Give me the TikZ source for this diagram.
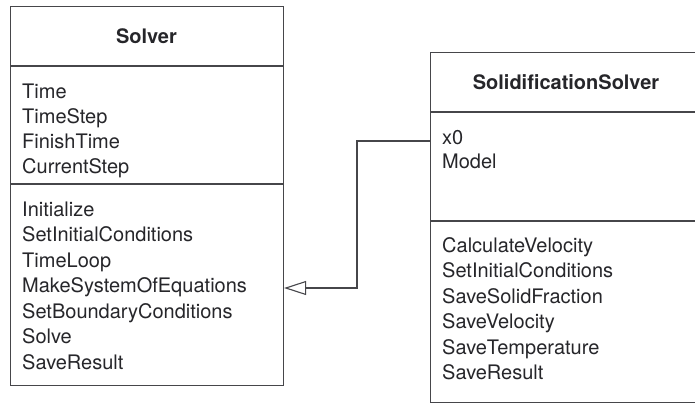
\documentclass[tikz,border=0pt]{standalone}
\usepackage{fontspec}
\setmainfont{TeX Gyre Heros}
\usetikzlibrary{arrows.meta}
\definecolor{ink}{RGB}{38,38,42}
\definecolor{rule}{RGB}{70,70,74}
\begin{document}
\begin{tikzpicture}[x=1pt,y=-1pt,
  classbox/.style={draw=rule, line width=1.1pt, rectangle, inner sep=0pt, anchor=north west},
  sep/.style={draw=rule, line width=1.1pt},
  member/.style={anchor=base west, inner sep=0pt, text=ink, font=\fontsize{20}{24}\selectfont},
  classname/.style={anchor=center, inner sep=0pt, text=ink, font=\fontsize{20}{24}\selectfont\bfseries},
  inherits/.style={draw=rule, line width=1.1pt, -{Triangle[open, length=22pt, width=14pt]}}]
\useasboundingbox (0,0) rectangle (695,405);
\fill[white] (0,0) rectangle (695,405);
\clip (0,0) rectangle (695,405);

% ---- base class: Solver ----
\node[classbox, minimum width=273pt, minimum height=379pt] (solver) at (10,6) {};
\node[classname] (solver-name) at (146.5,36) {Solver};
\coordinate (s-div1) at (0,66);
\coordinate (s-div2) at (0,184);
\draw[sep] (solver.west |- s-div1) -- (solver.east |- s-div1);
\draw[sep] (solver.west |- s-div2) -- (solver.east |- s-div2);

\node[member] (s-a1) at (22,98)  {Time};
\node[member] (s-a2) at (22,123) {TimeStep};
\node[member] (s-a3) at (22,148) {FinishTime};
\node[member] (s-a4) at (22,173) {CurrentStep};

\node[member] (s-m1) at (22,216)   {Initialize};
\node[member] (s-m2) at (22,241.5) {SetInitialConditions};
\node[member] (s-m3) at (22,267)   {TimeLoop};
\node[member] (s-m4) at (22,292.5) {MakeSystemOfEquations};
\node[member] (s-m5) at (22,318)   {SetBoundaryConditions};
\node[member] (s-m6) at (22,343.5) {Solve};
\node[member] (s-m7) at (22,369)   {SaveResult};

% ---- derived class: SolidificationSolver ----
\node[classbox, minimum width=272pt, minimum height=350pt] (sub) at (430,52) {};
\node[classname] (sub-name) at (566,82) {SolidificationSolver};
\coordinate (d-div1) at (0,112);
\coordinate (d-div2) at (0,221);
\draw[sep] (sub.west |- d-div1) -- (sub.east |- d-div1);
\draw[sep] (sub.west |- d-div2) -- (sub.east |- d-div2);

\node[member] (d-a1) at (442,144) {x0};
\node[member] (d-a2) at (442,168.5) {Model};

\node[member] (d-m1) at (442,252)   {CalculateVelocity};
\node[member] (d-m2) at (442,277.5) {SetInitialConditions};
\node[member] (d-m3) at (442,303)   {SaveSolidFraction};
\node[member] (d-m4) at (442,328.5) {SaveVelocity};
\node[member] (d-m5) at (442,354)   {SaveTemperature};
\node[member] (d-m6) at (442,379.5) {SaveResult};

% ---- generalisation arrow ----
\coordinate (gen-from) at (0,141);
\coordinate (gen-bend) at (357,288);
\draw[inherits] (sub.west |- gen-from) -| (gen-bend) -- (solver.east |- gen-bend);
\end{tikzpicture}
\end{document}
